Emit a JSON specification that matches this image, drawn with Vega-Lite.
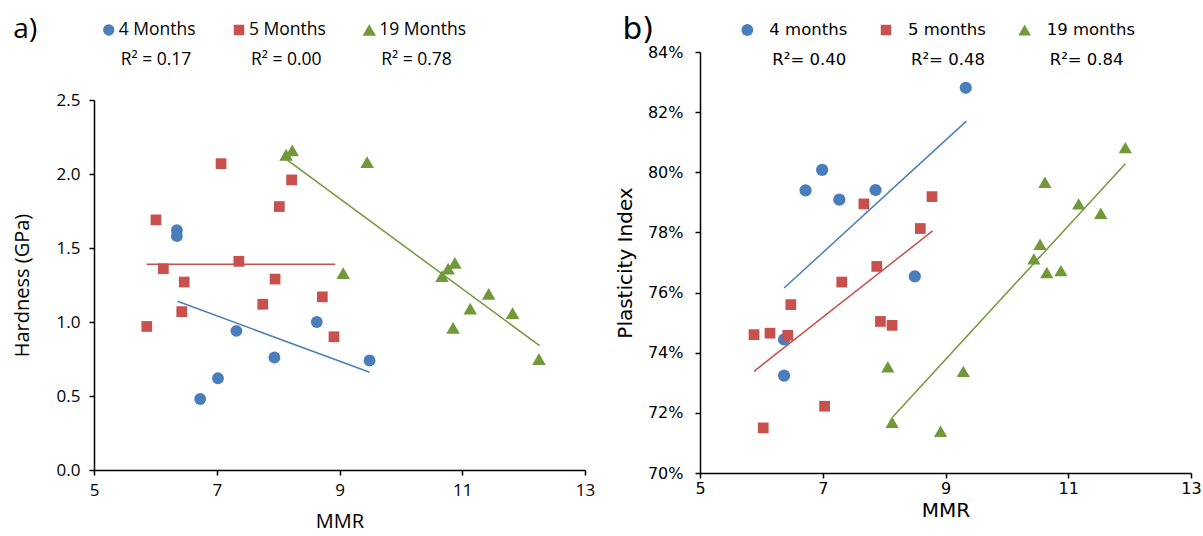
{
  "$schema": "https://vega.github.io/schema/vega-lite/v6.json",
  "padding": {"left": 12, "top": 14, "right": 2, "bottom": 2},
  "background": "white",
  "config": {
    "view": {"stroke": null},
    "axis": {"grid": false, "domainColor": "#000", "domainWidth": 1.5, "tickColor": "#000", "tickWidth": 1.5, "tickSize": 5, "labelColor": "#000", "titleColor": "#000", "titleFontWeight": "normal", "labelFlush": false, "labelOverlap": false}
  },
  "datasets": {
    "legendA": [
      {"s": "4 Months", "r2": "R² = 0.17"},
      {"s": "5 Months", "r2": "R² = 0.00"},
      {"s": "19 Months", "r2": "R² = 0.78"}
    ],
    "legendB": [
      {"s": "4 months", "r2": "R²= 0.40"},
      {"s": "5 months", "r2": "R²= 0.48"},
      {"s": "19 months", "r2": "R²= 0.84"}
    ],
    "hardPts": [
      {"s": "4 Months", "mmr": 6.35, "v": 1.62},
      {"s": "4 Months", "mmr": 6.35, "v": 1.58},
      {"s": "4 Months", "mmr": 7.32, "v": 0.94},
      {"s": "4 Months", "mmr": 7.94, "v": 0.76},
      {"s": "4 Months", "mmr": 7.02, "v": 0.62},
      {"s": "4 Months", "mmr": 6.73, "v": 0.48},
      {"s": "4 Months", "mmr": 8.63, "v": 1.0},
      {"s": "4 Months", "mmr": 9.49, "v": 0.74},
      {"s": "5 Months", "mmr": 5.86, "v": 0.97},
      {"s": "5 Months", "mmr": 6.01, "v": 1.69},
      {"s": "5 Months", "mmr": 6.13, "v": 1.36},
      {"s": "5 Months", "mmr": 6.47, "v": 1.27},
      {"s": "5 Months", "mmr": 6.43, "v": 1.07},
      {"s": "5 Months", "mmr": 7.07, "v": 2.07},
      {"s": "5 Months", "mmr": 7.36, "v": 1.41},
      {"s": "5 Months", "mmr": 8.02, "v": 1.78},
      {"s": "5 Months", "mmr": 8.22, "v": 1.96},
      {"s": "5 Months", "mmr": 7.95, "v": 1.29},
      {"s": "5 Months", "mmr": 7.75, "v": 1.12},
      {"s": "5 Months", "mmr": 8.72, "v": 1.17},
      {"s": "5 Months", "mmr": 8.91, "v": 0.9},
      {"s": "19 Months", "mmr": 8.13, "v": 2.13},
      {"s": "19 Months", "mmr": 8.23, "v": 2.16},
      {"s": "19 Months", "mmr": 9.45, "v": 2.08},
      {"s": "19 Months", "mmr": 9.06, "v": 1.33},
      {"s": "19 Months", "mmr": 10.67, "v": 1.31},
      {"s": "19 Months", "mmr": 10.77, "v": 1.36},
      {"s": "19 Months", "mmr": 10.88, "v": 1.4},
      {"s": "19 Months", "mmr": 10.85, "v": 0.96},
      {"s": "19 Months", "mmr": 11.13, "v": 1.09},
      {"s": "19 Months", "mmr": 11.43, "v": 1.19},
      {"s": "19 Months", "mmr": 11.82, "v": 1.06},
      {"s": "19 Months", "mmr": 12.25, "v": 0.75}
    ],
    "hardFit": [
      {"s": "4 Months", "mmr": 6.36, "v": 1.14},
      {"s": "4 Months", "mmr": 9.49, "v": 0.66},
      {"s": "5 Months", "mmr": 5.86, "v": 1.39},
      {"s": "5 Months", "mmr": 8.93, "v": 1.39},
      {"s": "19 Months", "mmr": 8.13, "v": 2.1},
      {"s": "19 Months", "mmr": 12.26, "v": 0.84}
    ],
    "plasPts": [
      {"s": "4 months", "mmr": 9.33, "v": 0.8281},
      {"s": "4 months", "mmr": 6.99, "v": 0.8008},
      {"s": "4 months", "mmr": 6.72, "v": 0.794},
      {"s": "4 months", "mmr": 7.27, "v": 0.7909},
      {"s": "4 months", "mmr": 7.86, "v": 0.7941},
      {"s": "4 months", "mmr": 8.5, "v": 0.7654},
      {"s": "4 months", "mmr": 6.37, "v": 0.7444},
      {"s": "4 months", "mmr": 6.37, "v": 0.7324},
      {"s": "5 months", "mmr": 7.67, "v": 0.7895},
      {"s": "5 months", "mmr": 8.78, "v": 0.7919},
      {"s": "5 months", "mmr": 8.59, "v": 0.7813},
      {"s": "5 months", "mmr": 7.88, "v": 0.7687},
      {"s": "5 months", "mmr": 7.31, "v": 0.7635},
      {"s": "5 months", "mmr": 6.48, "v": 0.756},
      {"s": "5 months", "mmr": 5.88, "v": 0.746},
      {"s": "5 months", "mmr": 6.14, "v": 0.7465},
      {"s": "5 months", "mmr": 6.43, "v": 0.7458},
      {"s": "5 months", "mmr": 7.94, "v": 0.7504},
      {"s": "5 months", "mmr": 8.13, "v": 0.7491},
      {"s": "5 months", "mmr": 7.03, "v": 0.7222},
      {"s": "5 months", "mmr": 6.03, "v": 0.715},
      {"s": "19 months", "mmr": 8.06, "v": 0.7353},
      {"s": "19 months", "mmr": 9.29, "v": 0.7338},
      {"s": "19 months", "mmr": 8.13, "v": 0.7169},
      {"s": "19 months", "mmr": 8.92, "v": 0.7139},
      {"s": "19 months", "mmr": 11.93, "v": 0.8082},
      {"s": "19 months", "mmr": 10.62, "v": 0.7967},
      {"s": "19 months", "mmr": 11.17, "v": 0.7895},
      {"s": "19 months", "mmr": 11.53, "v": 0.7864},
      {"s": "19 months", "mmr": 10.54, "v": 0.7761},
      {"s": "19 months", "mmr": 10.44, "v": 0.7712},
      {"s": "19 months", "mmr": 10.65, "v": 0.7667},
      {"s": "19 months", "mmr": 10.88, "v": 0.7673}
    ],
    "plasFit": [
      {"s": "4 months", "mmr": 6.37, "v": 0.7615},
      {"s": "4 months", "mmr": 9.34, "v": 0.817},
      {"s": "5 months", "mmr": 5.88, "v": 0.7338},
      {"s": "5 months", "mmr": 8.79, "v": 0.7805},
      {"s": "19 months", "mmr": 8.14, "v": 0.7186},
      {"s": "19 months", "mmr": 11.93, "v": 0.8028}
    ]
  },
  "spacing": 20,
  "resolve": {"scale": {"x": "independent", "y": "independent", "color": "independent", "shape": "independent", "size": "independent"}},
  "hconcat": [
    {
      "spacing": 22,
      "resolve": {"scale": {"x": "independent", "y": "independent", "color": "independent", "shape": "independent", "size": "independent"}},
      "vconcat": [
        {
          "data": {"name": "legendA"},
          "width": 310,
          "height": 30,
          "title": {"text": "a)", "orient": "left", "angle": 0, "align": "right", "baseline": "middle", "anchor": "middle", "frame": "group", "offset": 33, "font": "Open Sans", "fontSize": 28, "fontWeight": "normal", "color": "#000"},
          "layer": [
            {
              "mark": {"type": "point", "filled": true, "opacity": 1, "xOffset": -10},
              "encoding": {
                "x": {"field": "s", "type": "nominal", "sort": null, "axis": null, "scale": {"type": "point", "domain": ["4 Months", "5 Months", "19 Months"], "padding": 0.19}},
                "color": {"field": "s", "type": "nominal", "legend": null, "scale": {"domain": ["4 Months", "5 Months", "19 Months"], "range": ["#4A7EBB", "#C8504D", "#71993A"]}},
                "shape": {"field": "s", "type": "nominal", "legend": null, "scale": {"domain": ["4 Months", "5 Months", "19 Months"], "range": ["circle", "square", "triangle-up"]}},
                "size": {"field": "s", "type": "nominal", "legend": null, "scale": {"type": "ordinal", "domain": ["4 Months", "5 Months", "19 Months"], "range": [130, 110, 180]}}
              }
            },
            {
              "mark": {"type": "text", "align": "left", "baseline": "middle", "font": "Open Sans", "fontSize": 17.5, "color": "#000"},
              "encoding": {
                "x": {"field": "s", "type": "nominal", "sort": null, "axis": null, "scale": {"type": "point", "domain": ["4 Months", "5 Months", "19 Months"], "padding": 0.19}},
                "text": {"field": "s"}
              }
            },
            {
              "mark": {"type": "text", "align": "left", "baseline": "middle", "font": "Open Sans", "fontSize": 17.5, "color": "#000", "xOffset": 2, "yOffset": 30},
              "encoding": {
                "x": {"field": "s", "type": "nominal", "sort": null, "axis": null, "scale": {"type": "point", "domain": ["4 Months", "5 Months", "19 Months"], "padding": 0.19}},
                "text": {"field": "r2"}
              }
            }
          ]
        },
        {
          "width": 491,
          "height": 370,
          "layer": [
            {
              "data": {"name": "hardFit"},
              "mark": {"type": "line", "strokeWidth": 1.5},
              "encoding": {
                "x": {"field": "mmr", "type": "quantitative", "scale": {"domain": [5, 13], "nice": false, "zero": false}, "axis": {"values": [5, 7, 9, 11, 13], "format": "d", "title": "MMR", "labelFont": "Open Sans", "labelFontSize": 17, "titleFont": "Open Sans", "titleFontSize": 20, "labelPadding": 7, "titlePadding": 13}},
                "y": {"field": "v", "type": "quantitative", "scale": {"domain": [0, 2.5], "nice": false}, "axis": {"values": [0, 0.5, 1, 1.5, 2, 2.5], "format": ".1f", "title": "Hardness (GPa)", "labelFont": "Open Sans", "labelFontSize": 17, "titleFont": "Open Sans", "titleFontSize": 20, "labelPadding": 9, "titlePadding": 24}},
                "color": {"field": "s", "type": "nominal", "legend": null, "scale": {"domain": ["4 Months", "5 Months", "19 Months"], "range": ["#4A7EBB", "#C8504D", "#71993A"]}}
              }
            },
            {
              "data": {"name": "hardPts"},
              "mark": {"type": "point", "filled": true, "opacity": 1},
              "encoding": {
                "x": {"field": "mmr", "type": "quantitative"},
                "y": {"field": "v", "type": "quantitative"},
                "color": {"field": "s", "type": "nominal", "legend": null},
                "shape": {"field": "s", "type": "nominal", "legend": null, "scale": {"domain": ["4 Months", "5 Months", "19 Months"], "range": ["circle", "square", "triangle-up"]}},
                "size": {"field": "s", "type": "nominal", "legend": null, "scale": {"type": "ordinal", "domain": ["4 Months", "5 Months", "19 Months"], "range": [140, 115, 185]}}
              }
            }
          ]
        }
      ]
    },
    {
      "spacing": 7,
      "bounds": "flush",
      "resolve": {"scale": {"x": "independent", "y": "independent", "color": "independent", "shape": "independent", "size": "independent"}},
      "vconcat": [
        {
          "data": {"name": "legendB"},
          "width": 416,
          "height": 30,
          "title": {"text": "b)", "orient": "left", "angle": 0, "align": "right", "baseline": "middle", "anchor": "middle", "frame": "group", "offset": 14, "font": "DejaVu Sans", "fontSize": 31, "fontWeight": "normal", "color": "#000"},
          "layer": [
            {
              "mark": {"type": "point", "filled": true, "opacity": 1, "xOffset": -22},
              "encoding": {
                "x": {"field": "s", "type": "nominal", "sort": null, "axis": null, "scale": {"type": "point", "domain": ["4 months", "5 months", "19 months"], "padding": 0.5}},
                "color": {"field": "s", "type": "nominal", "legend": null, "scale": {"domain": ["4 months", "5 months", "19 months"], "range": ["#4A7EBB", "#C8504D", "#71993A"]}},
                "shape": {"field": "s", "type": "nominal", "legend": null, "scale": {"domain": ["4 months", "5 months", "19 months"], "range": ["circle", "square", "triangle-up"]}},
                "size": {"field": "s", "type": "nominal", "legend": null, "scale": {"type": "ordinal", "domain": ["4 months", "5 months", "19 months"], "range": [140, 110, 160]}}
              }
            },
            {
              "mark": {"type": "text", "align": "left", "baseline": "middle", "font": "DejaVu Sans", "fontSize": 16.5, "color": "#000"},
              "encoding": {
                "x": {"field": "s", "type": "nominal", "sort": null, "axis": null, "scale": {"type": "point", "domain": ["4 months", "5 months", "19 months"], "padding": 0.5}},
                "text": {"field": "s"}
              }
            },
            {
              "mark": {"type": "text", "align": "left", "baseline": "middle", "font": "DejaVu Sans", "fontSize": 16.5, "color": "#000", "xOffset": 3, "yOffset": 30},
              "encoding": {
                "x": {"field": "s", "type": "nominal", "sort": null, "axis": null, "scale": {"type": "point", "domain": ["4 months", "5 months", "19 months"], "padding": 0.5}},
                "text": {"field": "r2"}
              }
            }
          ]
        },
        {
          "width": 491,
          "height": 421,
          "layer": [
            {
              "data": {"name": "plasFit"},
              "mark": {"type": "line", "strokeWidth": 1.5},
              "encoding": {
                "x": {"field": "mmr", "type": "quantitative", "scale": {"domain": [5, 13], "nice": false, "zero": false}, "axis": {"values": [5, 7, 9, 11, 13], "format": "d", "title": "MMR", "labelFont": "DejaVu Sans", "labelFontSize": 16, "titleFont": "DejaVu Sans", "titleFontSize": 20, "labelPadding": 2, "titlePadding": 4}},
                "y": {"field": "v", "type": "quantitative", "scale": {"domain": [0.7, 0.84], "nice": false, "zero": false}, "axis": {"values": [0.7, 0.72, 0.74, 0.76, 0.78, 0.8, 0.82, 0.84], "format": ".0%", "title": "Plasticity Index", "labelFont": "DejaVu Sans", "labelFontSize": 16, "titleFont": "DejaVu Sans", "titleFontSize": 20, "labelPadding": 12, "titlePadding": 12}},
                "color": {"field": "s", "type": "nominal", "legend": null, "scale": {"domain": ["4 months", "5 months", "19 months"], "range": ["#4A7EBB", "#C8504D", "#71993A"]}}
              }
            },
            {
              "data": {"name": "plasPts"},
              "mark": {"type": "point", "filled": true, "opacity": 1},
              "encoding": {
                "x": {"field": "mmr", "type": "quantitative"},
                "y": {"field": "v", "type": "quantitative"},
                "color": {"field": "s", "type": "nominal", "legend": null},
                "shape": {"field": "s", "type": "nominal", "legend": null, "scale": {"domain": ["4 months", "5 months", "19 months"], "range": ["circle", "square", "triangle-up"]}},
                "size": {"field": "s", "type": "nominal", "legend": null, "scale": {"type": "ordinal", "domain": ["4 months", "5 months", "19 months"], "range": [150, 115, 175]}}
              }
            }
          ]
        }
      ]
    }
  ]
}
